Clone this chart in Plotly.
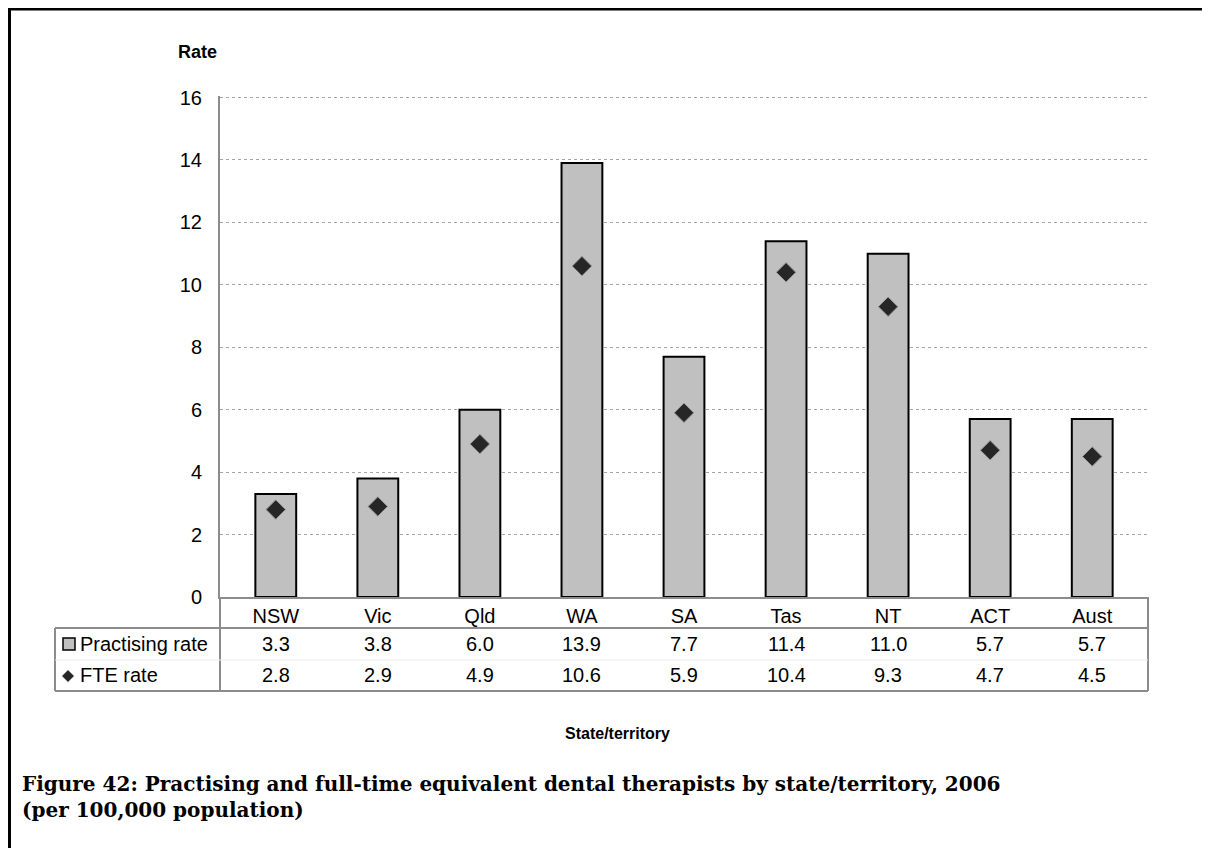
import plotly.graph_objects as go

# Data
states = ['NSW', 'Vic', 'Qld', 'WA', 'SA', 'Tas', 'NT', 'ACT', 'Aust']
practising_rate = [3.3, 3.8, 6.0, 13.9, 7.7, 11.4, 11.0, 5.7, 5.7]
fte_rate = [2.8, 2.9, 4.9, 10.6, 5.9, 10.4, 9.3, 4.7, 4.5]
y_ticks = [0, 2, 4, 6, 8, 10, 12, 14, 16]

W, H = 1210, 848
OFF = 8                       # page body margin
Y_MAX = 16.05
# plot area in screen pixels
L, R, B = 220, 1148, 597
T = B - (B - 98) * Y_MAX / 16


def px(x):
    return (x - L) / (R - L)


def py(y):
    return (B - y) / (B - T)


fig = go.Figure()
fig.add_trace(go.Bar(x=states, y=practising_rate, name='Practising rate', width=0.4,
                     marker=dict(color='#C0C0C0', line=dict(color='black', width=2))))
fig.add_trace(go.Scatter(x=states, y=fte_rate, name='FTE rate', mode='markers',
                         marker=dict(symbol='diamond', size=15, color='#262626',
                                     line=dict(color='#9a9a9a', width=1))))

font = 'Arial, Liberation Sans, sans-serif'


def label(x, y, text, size=20, xref='paper', xanchor='center', family=font, **kw):
    return dict(x=x, y=y, xref=xref, yref='paper', text=text, showarrow=False,
                xanchor=xanchor, yanchor='middle',
                font=dict(size=size, color='black', family=family), **kw)


annotations = []
# data table rows
for s, p, f in zip(states, practising_rate, fte_rate):
    annotations.append(label(s, py(644), f'{p:.1f}', xref='x'))
    annotations.append(label(s, py(675), f'{f:.1f}', xref='x'))
annotations += [
    label(px(78), py(644), 'Practising rate', xanchor='left'),
    label(px(78), py(675), 'FTE rate', xanchor='left'),
    label(px(197), py(52), '<b>Rate</b>', size=18),
    label(px(617), py(733), '<b>State/territory</b>', size=16),
    label(px(20), py(797),
          '<b>Figure 42: Practising and full-time equivalent dental therapists by state/territory, 2006'
          '<br>(per 100,000 population)</b>',
          size=20, xanchor='left', family='DejaVu Serif, serif', align='left'),
]

grey = '#8c8c8c'
shapes = [
    # outer frame
    dict(type='line', xref='paper', yref='paper', x0=px(8), x1=px(1240), y0=py(9.5), y1=py(9.5),
         line=dict(color='black', width=3)),
    dict(type='line', xref='paper', yref='paper', x0=px(9.5), x1=px(9.5), y0=py(8), y1=py(880),
         line=dict(color='black', width=3)),
    # data table lines
    dict(type='line', xref='paper', yref='paper', x0=px(55), x1=px(R), y0=py(628), y1=py(628),
         line=dict(color=grey, width=2)),
    dict(type='line', xref='paper', yref='paper', x0=px(55), x1=px(R), y0=py(691), y1=py(691),
         line=dict(color=grey, width=2)),
    dict(type='line', xref='paper', yref='paper', x0=px(55), x1=px(55), y0=py(628), y1=py(691),
         line=dict(color=grey, width=2)),
    dict(type='line', xref='paper', yref='paper', x0=0, x1=0, y0=0, y1=py(691),
         line=dict(color=grey, width=2)),
    dict(type='line', xref='paper', yref='paper', x0=1, x1=1, y0=0, y1=py(691),
         line=dict(color=grey, width=2)),
    dict(type='line', xref='paper', yref='paper', x0=px(55), x1=1, y0=py(660), y1=py(660),
         line=dict(color='#ededed', width=1)),
    # legend keys
    dict(type='rect', xref='paper', yref='paper', x0=px(63), x1=px(75), y0=py(638), y1=py(650),
         fillcolor='#C0C0C0', line=dict(color='black', width=1.5)),
    dict(type='path', xref='paper', yref='paper',
         path=f'M {px(62)},{py(676)} L {px(68)},{py(670)} L {px(74)},{py(676)} L {px(68)},{py(682)} Z',
         fillcolor='#262626', line=dict(color='#9a9a9a', width=1)),
]

fig.update_layout(
    width=W, height=H,
    margin=dict(l=L - OFF, r=W - (R - OFF), t=T - OFF, b=H - (B - OFF)),
    paper_bgcolor='white', plot_bgcolor='white',
    showlegend=False,
    font=dict(family=font, size=20, color='black'),
    xaxis=dict(showgrid=False, showline=True, linecolor=grey, linewidth=2,
               ticks='', ticklabelstandoff=0, tickfont=dict(size=20)),
    yaxis=dict(range=[0, Y_MAX], tickvals=y_ticks, showgrid=True, gridcolor='#a6a6a6',
               griddash='dot', gridwidth=1, showline=True, linecolor=grey, linewidth=2,
               zeroline=False, ticks='', ticklabelstandoff=12, tickfont=dict(size=20)),
    annotations=annotations,
    shapes=shapes,
)

fig.write_html('out.html')
